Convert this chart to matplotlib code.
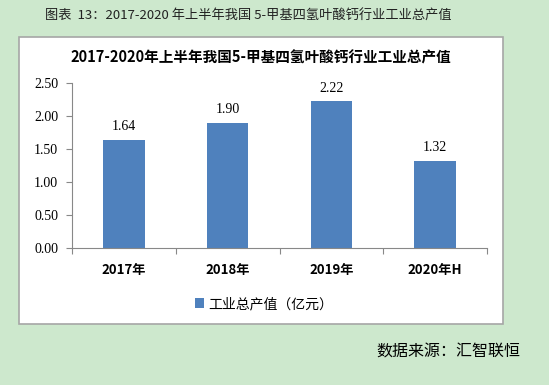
import matplotlib.pyplot as plt
from matplotlib.patches import Rectangle

plt.rcParams['font.family'] = ['Noto Sans CJK SC', 'DejaVu Sans']

categories = ['2017年', '2018年', '2019年', '2020年H']
values = [1.64, 1.90, 2.22, 1.32]
yticks = [0.0, 0.5, 1.0, 1.5, 2.0, 2.5]
series_name = '工业总产值（亿元）'

W, H = 549, 385
bg = '#cde8cd'
bar_color = '#4f81bd'


def fx(px):
    return px / W


def fy(py):
    return 1 - py / H


fig = plt.figure(figsize=(W / 100, H / 100), dpi=100)
fig.patch.set_facecolor(bg)

# white chart frame, behind the axes
fig.patches.append(Rectangle((fx(19), fy(324)), fx(503) - fx(19), fy(37) - fy(324),
                             transform=fig.transFigure, facecolor='white',
                             edgecolor='#a6a6a6', linewidth=1.2, zorder=-1))

fig.text(fx(45), fy(16), '图表  13：2017-2020 年上半年我国 5-甲基四氢叶酸钙行业工业总产值',
         fontsize=9.5, va='center', ha='left', color='#222222')
fig.text(fx(261), fy(57), '2017-2020年上半年我国5-甲基四氢叶酸钙行业工业总产值',
         fontsize=10.5, fontweight='bold', va='center', ha='center')

ax = fig.add_axes([fx(72), fy(248), fx(487) - fx(72), fy(83) - fy(248)])
ax.set_zorder(2)
ax.set_facecolor('none')
x = range(len(categories))
bars = ax.bar(x, values, width=0.4, color=bar_color, zorder=2)
for xi, v in zip(x, values):
    ax.text(xi, v + 0.1, f'{v:.2f}', ha='center', va='bottom', fontsize=10,
            family=['Liberation Serif', 'DejaVu Serif'])

ax.set_xlim(-0.5, len(categories) - 0.5)
ax.set_ylim(0, 2.5)
ax.set_yticks(yticks)
ax.set_yticklabels([f'{t:.2f}' for t in yticks], fontsize=10,
                   family=['Liberation Serif', 'DejaVu Serif'])
ax.set_xticks([i - 0.5 for i in range(len(categories) + 1)], minor=False)
ax.set_xticklabels([])
ax.set_xticks(list(x), minor=True)
ax.set_xticklabels(categories, minor=True, fontsize=9.5, fontweight='bold')
ax.tick_params(axis='x', which='minor', length=0, pad=11)
ax.tick_params(axis='x', which='major', length=4, color='#888888')
ax.tick_params(axis='y', length=4, color='#888888', pad=6)
for s in ['top', 'right']:
    ax.spines[s].set_visible(False)
for s in ['left', 'bottom']:
    ax.spines[s].set_color('#888888')

leg = fig.legend([bars], [series_name], loc='center', bbox_to_anchor=(fx(264), fy(304)),
                 frameon=False, fontsize=10, handlelength=0.7, handleheight=0.7,
                 handletextpad=0.3)

fig.text(fx(376), fy(352), '数据来源：汇智联恒', fontsize=11.5, va='center', ha='left')

fig.savefig('out.png', dpi=100, facecolor=bg)
